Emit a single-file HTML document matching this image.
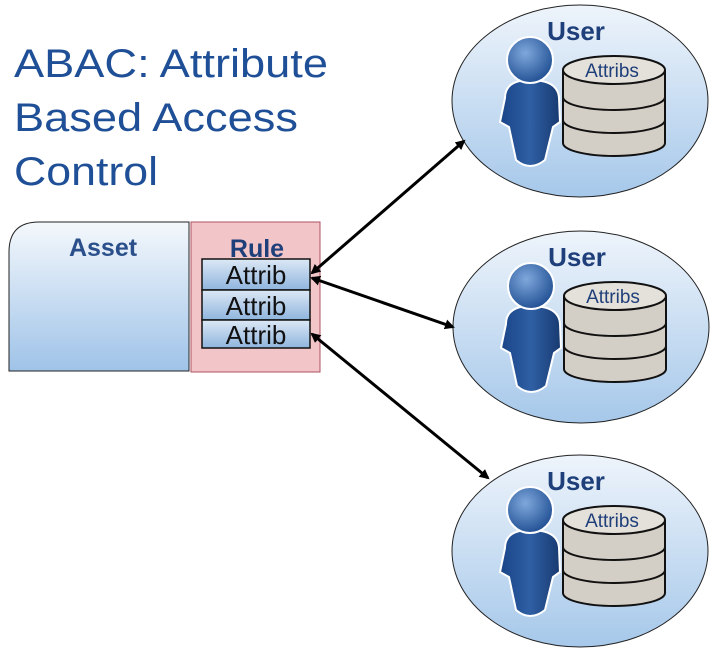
<!DOCTYPE html>
<html><head><style>body{margin:0;background:#fff}svg{display:block}</style></head><body>
<svg width="719" height="655" viewBox="0 0 719 655" xmlns="http://www.w3.org/2000/svg" font-family="Liberation Sans, sans-serif">
<defs>
<linearGradient id="ag" x1="0" y1="0" x2="0" y2="1"><stop offset="0" stop-color="#f4f8fc"/><stop offset="1" stop-color="#9fc3e8"/></linearGradient>
<linearGradient id="eg" x1="0" y1="0" x2="0" y2="1"><stop offset="0" stop-color="#eef4fb"/><stop offset="1" stop-color="#a6c8ea"/></linearGradient>
<linearGradient id="bg" x1="0" y1="0" x2="0" y2="1"><stop offset="0" stop-color="#dce8f5"/><stop offset="1" stop-color="#8fb5de"/></linearGradient>
<linearGradient id="pg" x1="0" y1="0" x2="1" y2="0"><stop offset="0" stop-color="#1a4488"/><stop offset="0.5" stop-color="#2f5fa4"/><stop offset="1" stop-color="#183a70"/></linearGradient>
<radialGradient id="hg" cx="0.4" cy="0.35" r="0.7"><stop offset="0" stop-color="#7fa8dc"/><stop offset="1" stop-color="#1d4c90"/></radialGradient>
<marker id="ah" markerWidth="10" markerHeight="10" refX="8" refY="5" orient="auto-start-reverse" markerUnits="userSpaceOnUse"><path d="M0,0 L10,5 L0,10 z" fill="#000"/></marker>
<g id="user">
<ellipse cx="580" cy="101" rx="128" ry="96" fill="url(#eg)" stroke="#222" stroke-width="1"/>
<text x="576" y="40" font-size="26" font-weight="bold" fill="#1f3f7a" text-anchor="middle">User</text>
<path d="M505,98 Q505,80 530,80 Q558,80 559,98 L560,122 L553,127 L545,160 Q530,172 516,160 L509,127 L500,122 Z" fill="url(#pg)" stroke="#fff" stroke-width="2"/>
<circle cx="530" cy="60" r="23" fill="url(#hg)" stroke="#fff" stroke-width="2"/>
<path d="M563,70 L563,143 A51,13 0 0 0 665,143 L665,70" fill="#d4cfc6" stroke="#111" stroke-width="2"/>
<path d="M563,97 A51,13 0 0 0 665,97 M563,120 A51,13 0 0 0 665,120" fill="none" stroke="#111" stroke-width="2"/>
<ellipse cx="614" cy="70" rx="51" ry="14" fill="#e4e0da" stroke="#111" stroke-width="2"/>
<text x="612" y="77" font-size="19" fill="#1f3f7a" text-anchor="middle">Attribs</text>
</g>
</defs>
<text x="14" y="77" font-size="40" fill="#1f4f96" textLength="314" lengthAdjust="spacingAndGlyphs">ABAC: Attribute</text>
<text x="14" y="131" font-size="40" fill="#1f4f96" textLength="284" lengthAdjust="spacingAndGlyphs">Based Access</text>
<text x="14" y="185" font-size="40" fill="#1f4f96" textLength="144" lengthAdjust="spacingAndGlyphs">Control</text>
<path d="M9,371 L9,252 Q9,222 39,222 L189,222 L189,371 Z" fill="url(#ag)" stroke="#222"/>
<text x="103" y="256" font-size="25" font-weight="bold" fill="#2a4f8a" text-anchor="middle">Asset</text>
<rect x="191" y="222" width="129" height="150" fill="#f2c6c9" stroke="#b05060"/>
<text x="257" y="257" font-size="25" font-weight="bold" fill="#1f3f7a" text-anchor="middle">Rule</text>
<rect x="202" y="259" width="108" height="31" fill="url(#bg)" stroke="#111" stroke-width="1.5"/>
<rect x="202" y="290" width="108" height="30" fill="url(#bg)" stroke="#111" stroke-width="1.5"/>
<rect x="202" y="320" width="108" height="28" fill="url(#bg)" stroke="#111" stroke-width="1.5"/>
<text x="256" y="284" font-size="26" fill="#111" text-anchor="middle">Attrib</text>
<text x="256" y="315" font-size="26" fill="#111" text-anchor="middle">Attrib</text>
<text x="256" y="344" font-size="26" fill="#111" text-anchor="middle">Attrib</text>
<use href="#user"/>
<use href="#user" transform="translate(1,226)"/>
<use href="#user" transform="translate(0,450)"/>
<line x1="312" y1="273" x2="464" y2="141" stroke="#000" stroke-width="3" marker-start="url(#ah)" marker-end="url(#ah)"/>
<line x1="312" y1="278" x2="453" y2="327" stroke="#000" stroke-width="3" marker-start="url(#ah)" marker-end="url(#ah)"/>
<line x1="312" y1="334" x2="488" y2="478" stroke="#000" stroke-width="3" marker-start="url(#ah)" marker-end="url(#ah)"/>
</svg>
</body></html>
